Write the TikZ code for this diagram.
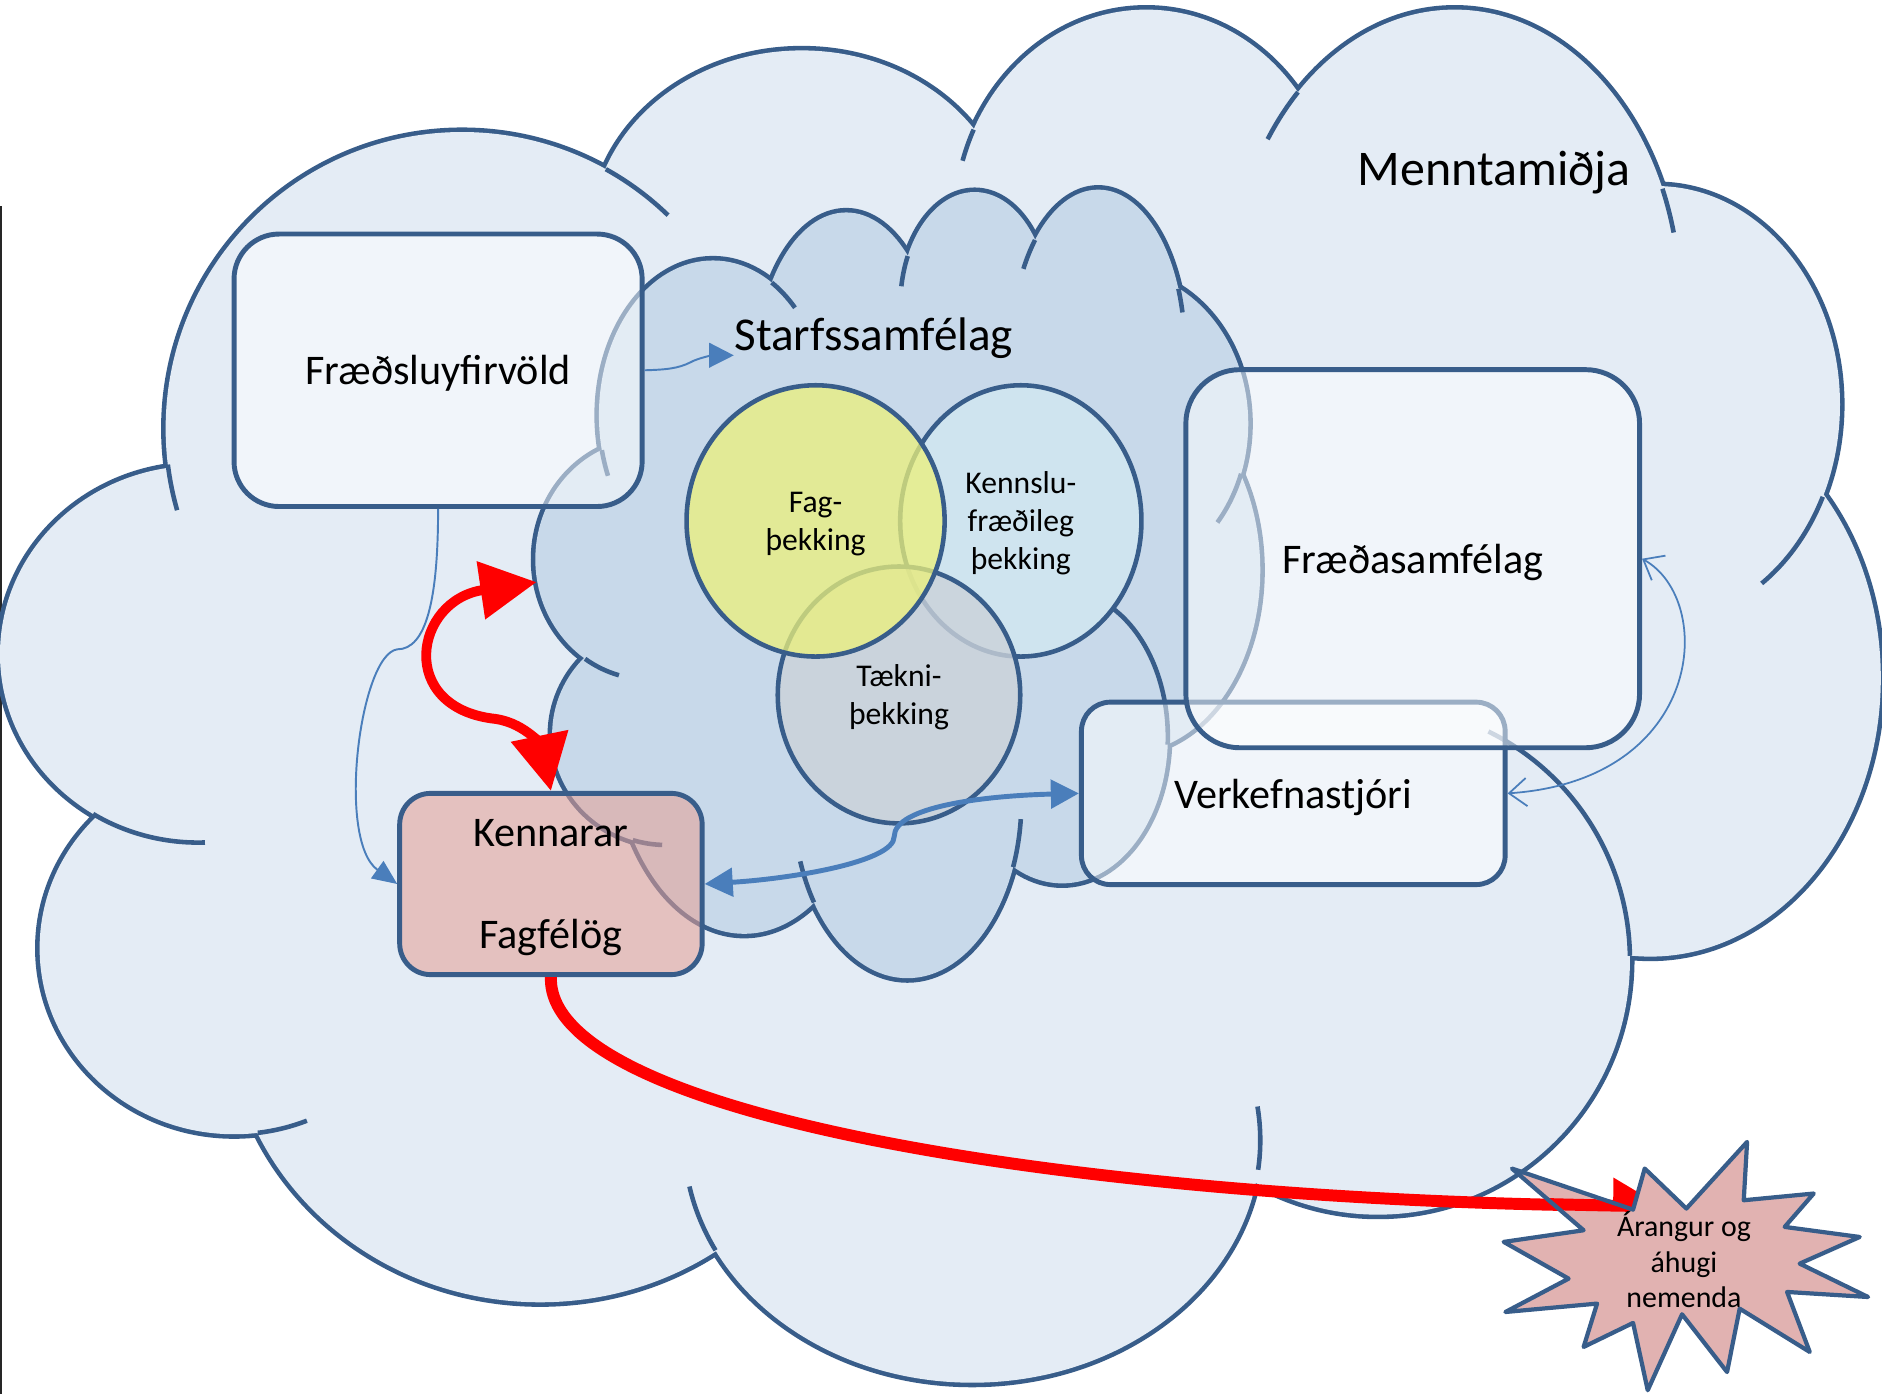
\documentclass[tikz,border=0pt]{standalone}
\usepackage{fontspec}
\setmainfont{Carlito}
\usetikzlibrary{arrows.meta, shapes.geometric}

\definecolor{cloudline}{RGB}{56,93,138}
\definecolor{outerfill}{RGB}{228,236,245}
\definecolor{innerfill}{RGB}{200,217,234}
\definecolor{arrowblue}{RGB}{74,126,187}
\definecolor{fagfill}{RGB}{236,241,122}
\definecolor{kennslufill}{RGB}{207,228,239}
\definecolor{taeknifill}{RGB}{203,210,217}
\definecolor{kennfill}{RGB}{229,160,150}
\definecolor{starfill}{RGB}{225,178,177}

\begin{document}
\begin{tikzpicture}[x=0.12mm, y=0.12mm,
    boxnode/.style={draw=cloudline, line width=1.4pt, fill=white, fill opacity=0.5, text opacity=1, text depth=0pt, align=center, font=\fontsize{12}{14.4}\selectfont},
    vennnode/.style={ellipse, draw=cloudline, line width=1.3pt, inner sep=0pt, text opacity=1, text depth=0pt, align=center, font=\fontsize{9}{10.8}\selectfont},
    thinarrow/.style={draw=arrowblue, line width=0.55pt}]
  \useasboundingbox (0,0) rectangle (1568,-1161);

  % Left margin rule
  \draw[black!85, line width=0.6pt] (1,-172) -- (1,-1161);

  % Menntamidja cloud
  \foreach \cx/\cy/\rx/\ry in {165/545/165/157, 385/357/247/247, 668/195/175/153, 955/186/160/178, 1212/253/188/245, 1380/337/153/182, 1375/565/192/232, 1148/800/210/212, 810/950/240/202, 450/840/260/245, 195/790/162/155}
    \draw[cloudline, line width=2.6pt] (\cx,-\cy) ellipse [x radius=\rx, y radius=\ry];
  \fill[outerfill] (780,-550) ellipse [x radius=600, y radius=380];
  \foreach \cx/\cy/\rx/\ry in {165/545/165/157, 385/357/247/247, 668/195/175/153, 955/186/160/178, 1212/253/188/245, 1380/337/153/182, 1375/565/192/232, 1148/800/210/212, 810/950/240/202, 450/840/260/245, 195/790/162/155}
    \fill[outerfill] (\cx,-\cy) ellipse [x radius=\rx, y radius=\ry];
  \foreach \cx/\cy/\rx/\ry/\sa/\sb in {385/357/247/247/187/196, 385/357/247/247/61/46, 955/186/160/178/154/163, 1212/253/188/245/134/146, 1212/253/188/245/23/14, 1380/337/153/182/-25/-55, 1148/800/210/212/64/1, 810/950/240/202/-7/8, 810/950/240/202/207/191, 195/790/162/155/-83/-68, 165/545/165/157/238/272}
    \draw[cloudline, line width=1.3pt] ({\cx+\rx*cos(\sa)},{-\cy+\ry*sin(\sa)}) arc[start angle=\sa, end angle=\sb, x radius=\rx, y radius=\ry];

  % Starfssamfelag cloud
  \foreach \cx/\cy/\rx/\ry in {594/346/95/129, 705/310/75/133, 812/255/62/95, 915/290/72/132, 930/353/110/128, 940/475/110/152, 885/614/88/122, 756/667/95/148, 620/607/110/171, 555/612/95/92, 540/466/94/100}
    \draw[cloudline, line width=2.6pt] (\cx,-\cy) ellipse [x radius=\rx, y radius=\ry];
  \fill[innerfill] (750,-450) ellipse [x radius=250, y radius=230];
  \foreach \cx/\cy/\rx/\ry in {594/346/95/129, 705/310/75/133, 812/255/62/95, 915/290/72/132, 930/353/110/128, 940/475/110/152, 885/614/88/122, 756/667/95/148, 620/607/110/171, 555/612/95/92, 540/466/94/100}
    \fill[innerfill] (\cx,-\cy) ellipse [x radius=\rx, y radius=\ry];
  \foreach \cx/\cy/\rx/\ry/\sa/\sb in {594/346/95/129/193/203, 594/346/95/129/59/44, 812/255/62/95/154/170, 915/290/72/132/137/150, 915/290/72/132/22/13, 930/353/110/128/-19/-40, 885/614/88/122/-3/62, 756/667/95/148/-22/-6, 756/667/95/148/215/200, 555/612/95/92/253/268, 540/466/94/100/236/255}
    \draw[cloudline, line width=1.3pt] ({\cx+\rx*cos(\sa)},{-\cy+\ry*sin(\sa)}) arc[start angle=\sa, end angle=\sb, x radius=\rx, y radius=\ry];

  % Cloud titles
  \node[font=\fontsize{14.2}{17}\selectfont, inner sep=0pt] (mennt) at (1245,-144) {Menntamiðja};
  \node[font=\fontsize{13.4}{16}\selectfont, inner sep=0pt] (starfs) at (728,-282) {Starfssamfélag};

  % Venn circles
  \node[vennnode, fill=kennslufill, minimum width=24.12mm, minimum height=27.12mm] (kennslu) at (850.5,-434) {Kennslu-\\fræðileg\\þekking};
  \node[vennnode, fill=taeknifill, fill opacity=0.8, minimum width=24.24mm, minimum height=25.68mm] (taekni) at (749,-579) {Tækni-\\þekking};
  \node[vennnode, fill=fagfill, fill opacity=0.75, minimum width=25.8mm, minimum height=27.12mm] (fag) at (679.5,-434) {Fag-\\þekking};

  % Boxes
  \node[boxnode, minimum width=40.8mm, minimum height=27.24mm, rounded corners=4.5mm] (fsv) at (365,-308.5) {Fræðsluyfirvöld};
  \node[boxnode, minimum width=42.36mm, minimum height=18.24mm, rounded corners=2.9mm] (verk) at (1077.5,-661) {Verkefnastjóri};
  \node[boxnode, minimum width=45.36mm, minimum height=37.8mm, rounded corners=5.4mm] (fsf) at (1177,-465.5) {Fræðasamfélag};
  \node[boxnode, fill=kennfill, fill opacity=0.56, minimum width=30.24mm, minimum height=18.12mm, rounded corners=3.1mm] (kenn) at (459,-736.5) {Kennarar\\[14.4pt]Fagfélög};

  \coordinate (cloudleft) at (447,-485);
  \coordinate (redend) at (1385,-1005);

  % Thin connectors
  \draw[thinarrow, -{Triangle[length=7pt,width=7pt]}] (fsv.east) .. controls (555,-308) and (565,-307) .. (575,-302) .. controls (582,-298) and (595,-296) .. ([yshift=-4.8pt]starfs.west);
  \draw[thinarrow, -{Triangle[length=7pt,width=6pt]}] (fsv.south) .. controls (365,-500) and (355,-541) .. (331,-541) .. controls (300,-545) and (280,-700) .. (kenn.west);
  \draw[thinarrow, line width=0.5pt, {Straight Barb[length=5pt,width=8pt]}-{Straight Barb[length=5pt,width=8pt]}] (fsf.east) .. controls (1430,-500) and (1420,-650) .. (verk.east);

  % Kennarar <-> Verkefnastjori
  \draw[arrowblue, line width=1.4pt, {Triangle[length=8pt,width=8pt]}-{Triangle[length=8pt,width=8pt]}] (kenn.east) .. controls (660,-732) and (745,-718) .. (745,-697) .. controls (745,-672) and (820,-663) .. (verk.west);

  % Red arrows
  \draw[red, line width=2.8pt, {Triangle[length=16pt,width=16pt]}-{Triangle[length=16pt,width=16pt]}] (kenn.north) .. controls (452,-625) and (440,-603) .. (413,-599) .. controls (330,-590) and (345,-500) .. (cloudleft);
  \draw[red, line width=3.4pt, -{Triangle[length=14pt,width=15pt]}] (kenn.south) .. controls (455,-930) and (900,-1000) .. (redend);

  % Arangur starburst
  \foreach \i/\x/\y in {1/1370.3/973.6, 2/1405/1006.9, 3/1455.6/951.4, 4/1452.8/1000, 5/1511.1/994.4, 6/1486.9/1022.2, 7/1549.4/1030.6, 8/1499.4/1052.8, 9/1556.4/1080.6, 10/1488.9/1076.4, 11/1507.8/1126.4, 12/1449.4/1090.3, 13/1438.9/1143.1, 14/1401.4/1095, 15/1372.8/1158.3, 16/1360.6/1102.2, 17/1319.4/1122.2, 18/1330.6/1086.1, 19/1254.2/1093.1, 20/1306.9/1065.3, 21/1252.8/1034.7, 22/1319.4/1025, 23/1259.7/973.6, 24/1360.6/1007.8}
    \coordinate (s\i) at (\x,-\y);
  \fill[starfill] (s1) \foreach \i in {2,...,24}{ -- (s\i)} -- cycle;
  \begin{scope}
    \clip (s22) -- (s23) -- (s24) -- cycle;
    \draw[red, line width=3.4pt] (kenn.south) .. controls (455,-930) and (900,-1000) .. (redend);
  \end{scope}
  \draw[cloudline, line width=1.2pt, line join=round] (s1) \foreach \i in {2,...,24}{ -- (s\i)} -- cycle;
  \node[font=\fontsize{8.5}{10}\selectfont, align=center, inner sep=0pt] (arangur) at (1403,-1049.5) {Árangur og\\áhugi\\nemenda};
\end{tikzpicture}
\end{document}
